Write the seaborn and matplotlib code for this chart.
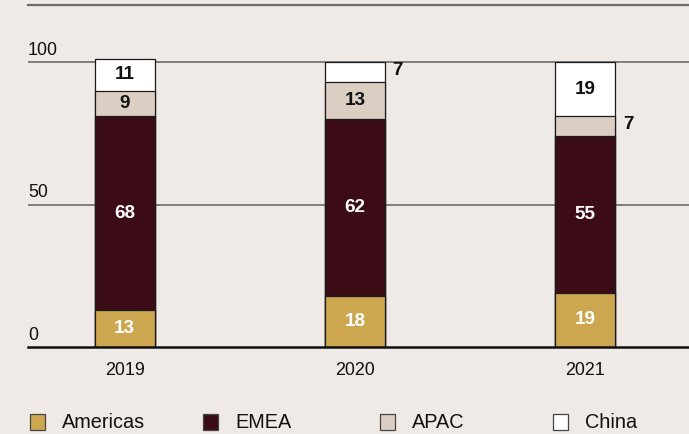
import numpy as np
import pandas as pd
import matplotlib
matplotlib.use("Agg")
import matplotlib.pyplot as plt
from matplotlib.patches import Rectangle
import seaborn as sns

years = ["2019", "2020", "2021"]
regions = ["Americas", "EMEA", "APAC", "China"]
americas = [13, 18, 19]
emea = [68, 62, 55]
apac = [9, 13, 7]
china = [11, 7, 19]

colors = {"Americas": "#cda650", "EMEA": "#3c0c16", "APAC": "#dbcfc3", "China": "#ffffff"}
label_colors = {"Americas": "white", "EMEA": "white", "APAC": "#111111", "China": "#111111"}
bg = "#efeae6"
grid_col = "#6e6a67"

sns.set_theme(style="white")
plt.rcParams["font.family"] = ["Liberation Sans", "DejaVu Sans"]

series = {"Americas": americas, "EMEA": emea, "APAC": apac, "China": china}
cum = np.cumsum(np.array([series[r] for r in regions]), axis=0)

W, H = 689, 434
fig = plt.figure(figsize=(W / 100, H / 100), dpi=100, facecolor=bg)
ax = fig.add_axes([28 / W, 1 - 347 / H, 1 - 28 / W, (347 - 5) / H])
ax.set_facecolor(bg)

# Stacked bars: draw cumulative totals from the top layer down
for i in range(len(regions) - 1, -1, -1):
    r = regions[i]
    df = pd.DataFrame({"year": years, "value": cum[i]})
    sns.barplot(data=df, x="year", y="value", color=colors[r], width=0.26,
                edgecolor="#1a1a1a", linewidth=0.9, saturation=1, ax=ax, zorder=3)

ax.set_xlim(-0.42, 2.45)
ax.set_ylim(0, 120)

# Gridlines and spines
for yv in (50, 100):
    ax.axhline(yv, color=grid_col, lw=1.2, zorder=1)
for s in ("left", "right"):
    ax.spines[s].set_visible(False)
ax.spines["top"].set_color(grid_col)
ax.spines["top"].set_linewidth(1.6)
ax.spines["bottom"].set_color("#111111")
ax.spines["bottom"].set_linewidth(1.8)
ax.spines["bottom"].set_zorder(4)

ax.set_yticks([])
ax.set_xlabel("")
ax.set_ylabel("")
ax.tick_params(axis="x", length=0, pad=11, labelsize=12.9, labelcolor="#111111")

# Value-axis labels sit just above their gridlines
for yv in (0, 50, 100):
    ax.text(0, yv + 2.5, str(yv), transform=ax.get_yaxis_transform(),
            ha="left", va="baseline", fontsize=12.9, color="#111111")

# Segment value labels
half_w = 0.13
for j in range(len(years)):
    for i, r in enumerate(regions):
        v = series[r][j]
        bottom = cum[i][j] - v
        mid = bottom + v / 2
        if v < 8:
            ax.text(j + half_w + 0.033, mid + 0.6, str(v), ha="left", va="center",
                    fontsize=13.6, fontweight="bold", color="#111111", zorder=5)
        else:
            ax.text(j, mid, str(v), ha="center", va="center", fontsize=13.6,
                    fontweight="bold", color=label_colors[r], zorder=5)

# Legend row along the bottom
leg_x = [30, 203, 380, 553]
for x0, r in zip(leg_x, regions):
    fig.patches.append(Rectangle((x0 / W, 1 - 430 / H), 15 / W, 16 / H,
                                 transform=fig.transFigure, facecolor=colors[r],
                                 edgecolor="#444444", linewidth=0.9))
    fig.text((x0 + 32) / W, 1 - 423 / H, r, ha="left", va="center",
             fontsize=14.3, color="#111111")

fig.savefig("out.png", dpi=100, facecolor=bg)
